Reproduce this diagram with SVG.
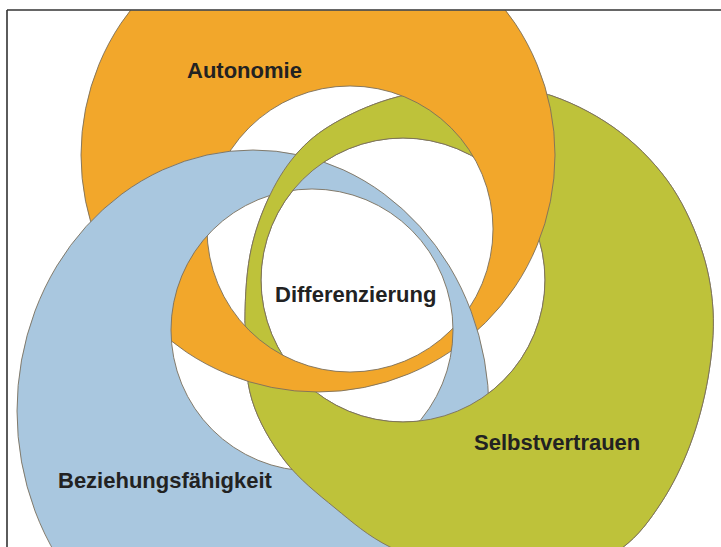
<svg xmlns="http://www.w3.org/2000/svg" width="721" height="547" viewBox="0 0 721 547">
<style>
.ring{fill-rule:evenodd;stroke:#7a6f5c;stroke-width:0.9}
.orange{fill:#F2A72B}
.blue{fill:#A9C7DF}
.green{fill:#BEC23A}
.lbl{font-family:"Liberation Sans",Arial,sans-serif;font-weight:bold;font-size:22px;fill:#222}
</style>
<defs>
<path id="greenRing" d="M470,86 C494.33,85.33 519.17,86.17 543,93 C566.83,99.83 592.33,112.5 613,127 C633.67,141.5 652.5,160.33 667,180 C681.5,199.67 692.33,223.33 700,245 C707.67,266.67 711.67,287.83 713,310 C714.33,332.17 711.83,355.5 708,378 C704.17,400.5 697.83,424.17 690,445 C682.17,465.83 672.33,485.83 661,503 C649.67,520.17 638.83,535.5 622,548 C605.17,560.5 585.33,573.33 560,578 C534.67,582.67 498.33,581.17 470,576 C441.67,570.83 412.5,558.33 390,547 C367.5,535.67 352.5,522.33 335,508 C317.5,493.67 298.83,479 285,461 C271.17,443 258.67,421.83 252,400 C245.33,378.17 245.33,354.17 245,330 C244.67,305.83 245.83,277.5 250,255 C254.17,232.5 261.67,212.5 270,195 C278.33,177.5 288.33,162.5 300,150 C311.67,137.5 323.83,128.83 340,120 C356.17,111.17 375.33,102.67 397,97 C418.67,91.33 445.67,86.67 470,86 Z M545,280 A142,142 0 1 0 261,280 A142,142 0 1 0 545,280 Z"/>
<path id="blueRing" d="M489,411 A236,261 0 1 0 17,411 A236,261 0 1 0 489,411 Z M453,330 A141,141 0 1 0 171,330 A141,141 0 1 0 453,330 Z"/>
<path id="orangeRing" d="M555,155 A237,237 0 1 0 81,155 A237,237 0 1 0 555,155 Z M493,229 A143,143 0 1 0 207,229 A143,143 0 1 0 493,229 Z"/>
<clipPath id="frame"><rect x="7.5" y="10.5" width="720" height="540"/></clipPath>
<mask id="noOrange" maskUnits="userSpaceOnUse" x="0" y="0" width="721" height="547">
<rect width="721" height="547" fill="#fff"/>
<use href="#orangeRing" fill="#000" fill-rule="evenodd" stroke="#000" stroke-width="3"/>
</mask>
</defs>
<rect width="721" height="547" fill="#fff"/>
<g clip-path="url(#frame)">
<g id="node-selbstvertrauen"><use href="#greenRing" class="ring green"/></g>
<g id="node-autonomie"><use href="#orangeRing" class="ring orange"/></g>
<g id="node-beziehungsfaehigkeit"><use href="#blueRing" class="ring blue"/></g>
<g id="overlap-green-over-blue" mask="url(#noOrange)"><use href="#greenRing" class="ring green"/></g>
</g>
<g id="frame-lines" stroke="#333" stroke-width="1.6" fill="none">
<line x1="7" y1="10" x2="721" y2="10"/>
<line x1="7" y1="10" x2="7" y2="547"/>
</g>
<g id="labels">
<text class="lbl" x="187" y="78">Autonomie</text>
<text class="lbl" x="275" y="302">Differenzierung</text>
<text class="lbl" x="474" y="450">Selbstvertrauen</text>
<text class="lbl" x="58" y="488">Beziehungsfähigkeit</text>
</g>
</svg>
